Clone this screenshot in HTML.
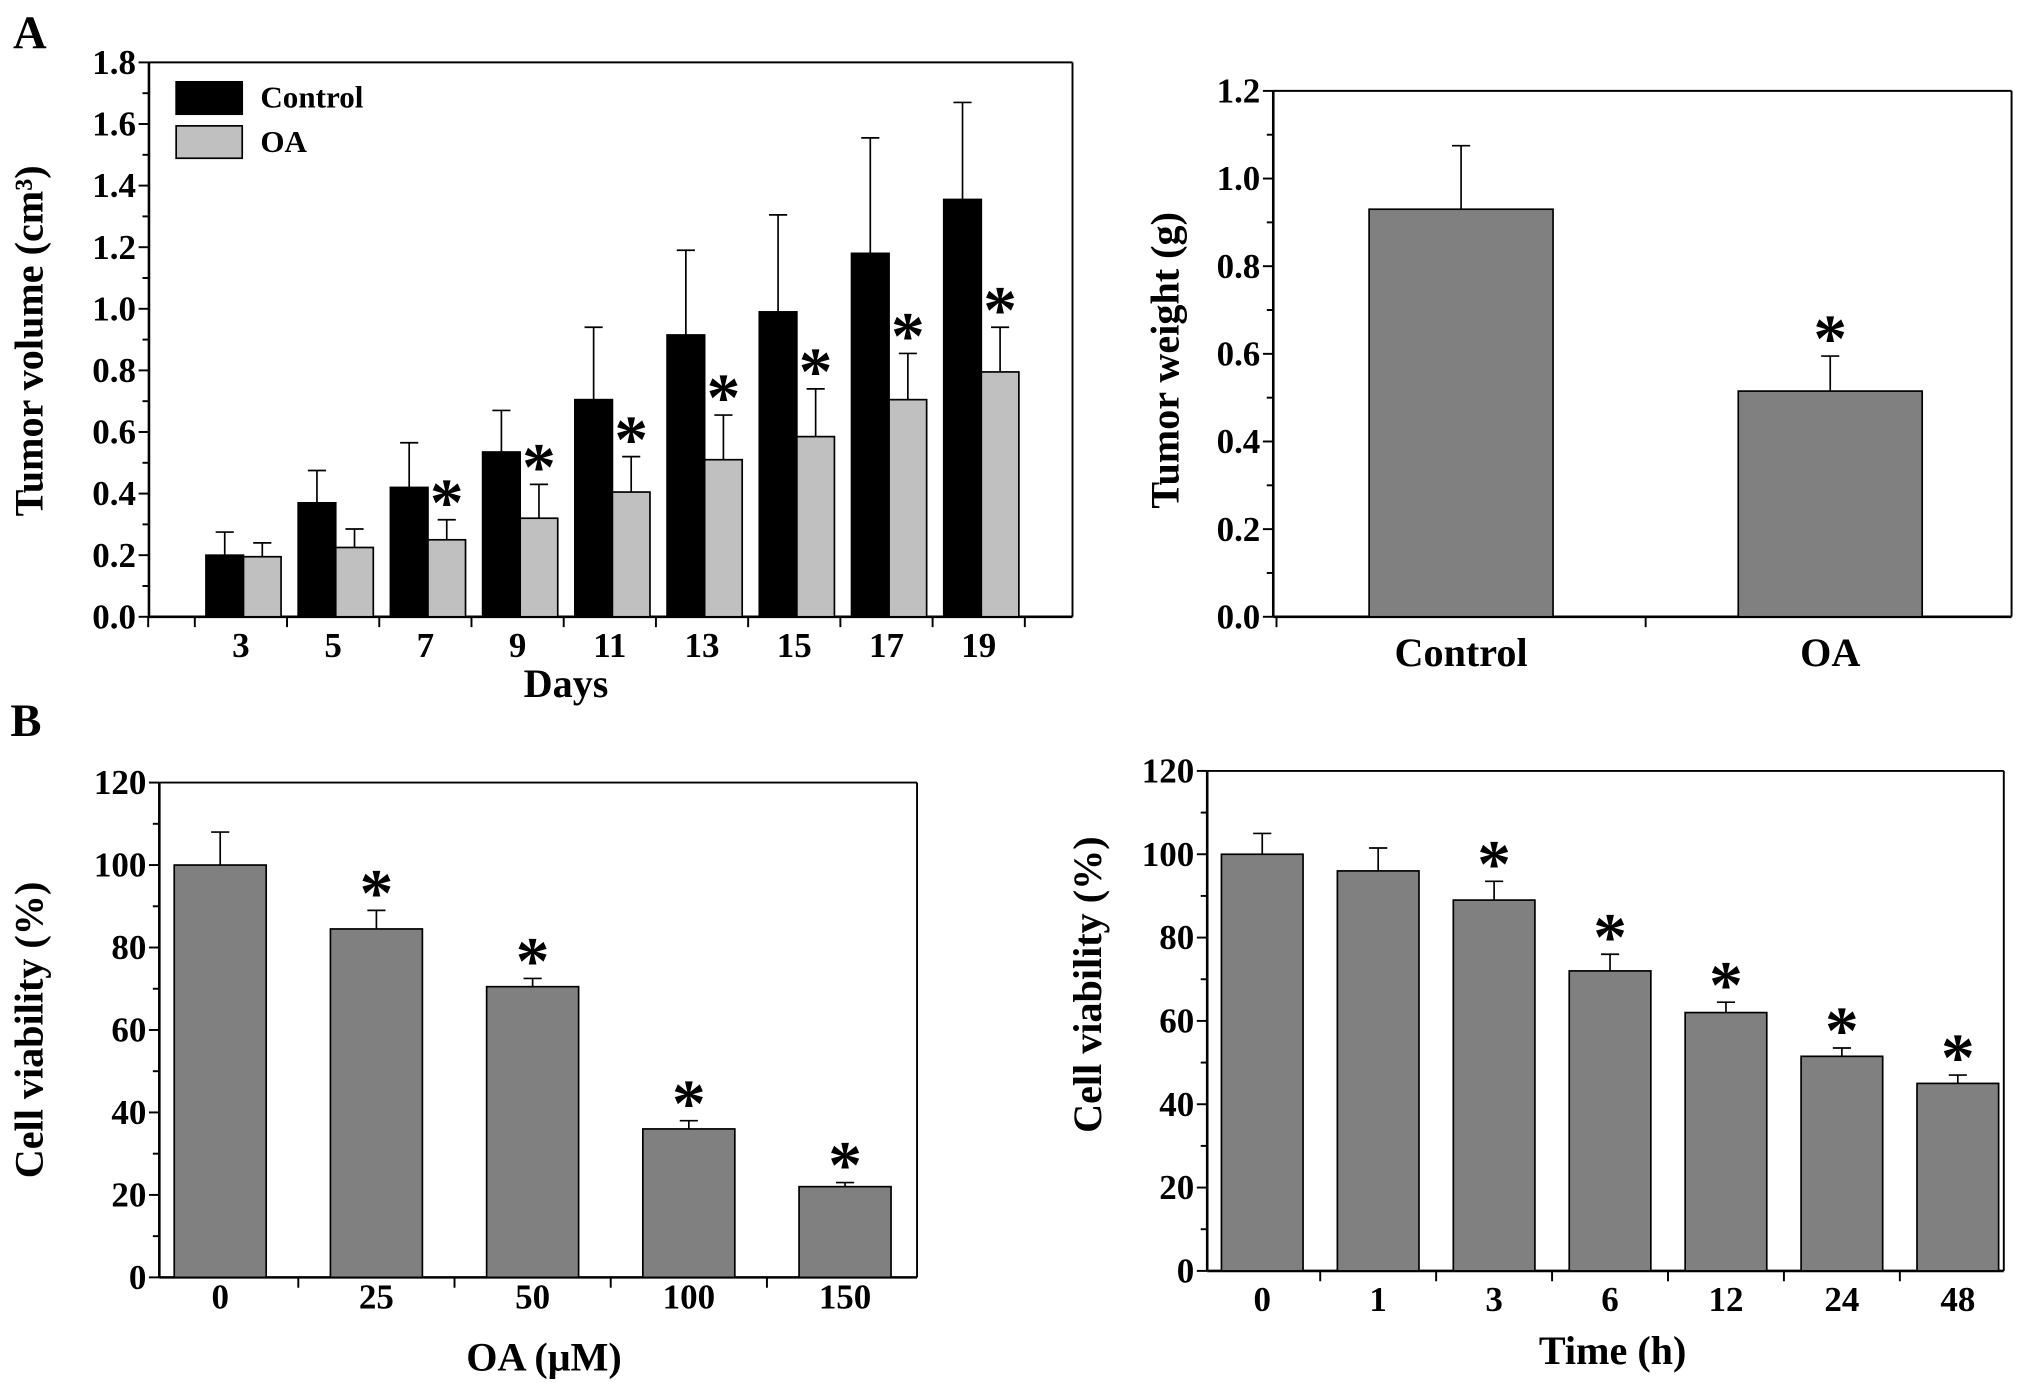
<!DOCTYPE html>
<html><head><meta charset="utf-8"><style>
html,body{margin:0;padding:0;background:#fff}
svg{display:block}
text{font-family:"Liberation Serif",serif;font-weight:bold;fill:#000}
</style></head><body>
<svg id="fig" width="2031" height="1389" viewBox="0 0 1568 1072" xmlns="http://www.w3.org/2000/svg">
<text x="10" y="37" font-size="36">A</text>
<text x="8" y="568" font-size="36">B</text>
</svg>
<script>
// Panel A1: tumor volume
const daysCats = ["3","5","7","9","11","13","15","17","19"];
const volControl = [0.20,0.37,0.42,0.535,0.705,0.915,0.99,1.18,1.355];
const volControlErr = [0.275,0.475,0.565,0.67,0.94,1.19,1.305,1.555,1.67];
const volOA = [0.195,0.225,0.25,0.32,0.405,0.51,0.585,0.705,0.795];
const volOAErr = [0.24,0.285,0.315,0.43,0.52,0.655,0.74,0.855,0.94];
const volOAStar = [false,false,true,true,true,true,true,true,true];
const volTicks = ["0.0","0.2","0.4","0.6","0.8","1.0","1.2","1.4","1.6","1.8"];
// Panel A2: tumor weight
const weightCats = ["Control","OA"];
const weightVals = [0.93,0.515];
const weightErr = [1.075,0.595];
const weightStar = [false,true];
const weightTicks = ["0.0","0.2","0.4","0.6","0.8","1.0","1.2"];
// Panel B1: dose
const doseCats = ["0","25","50","100","150"];
const doseVals = [100,84.5,70.5,36,22];
const doseErr = [108,89,72.5,38,23];
const doseStar = [false,true,true,true,true];
// Panel B2: time
const timeCats = ["0","1","3","6","12","24","48"];
const timeVals = [100,96,89,72,62,51.5,45];
const timeErr = [105,101.5,93.5,76,64.5,53.5,47];
const timeStar = [false,false,true,true,true,true,true];
const viabTicks = ["0","20","40","60","80","100","120"];

const svg = document.getElementById('fig');
const NS = "http://www.w3.org/2000/svg";
const TF = 27;
function mk(tag, attrs, parent){
  const e = document.createElementNS(NS, tag);
  for (const k in attrs) e.setAttribute(k, attrs[k]);
  (parent||svg).appendChild(e);
  return e;
}
function line(x1,y1,x2,y2,w,p){ return mk('line',{x1:x1,y1:y1,x2:x2,y2:y2,stroke:'#000','stroke-width':w||1.5},p); }
function txt(s,x,y,size,anchor,p){ const t=mk('text',{x:x,y:y,'font-size':size,'text-anchor':anchor||'middle'},p); t.textContent=s; return t; }

// cfg: L,R,T,B,ymax,ticks, c0 (first category center), step, n
function axes(name, c){
  const g = mk('g',{});
  
  
  const ys = v => c.B - v/c.ymax*(c.B-c.T);
  const xc = i => c.c0 + c.step*i;
  line(c.L,c.T,c.R,c.T,1.5,g); line(c.R,c.T,c.R,c.B,1.5,g);
  line(c.L,c.T,c.L,c.B,2,g); line(c.L,c.B,c.R,c.B,2,g);
  const n = c.ticks.length-1;
  for (let i=0;i<=n;i++){
    const v = c.ymax*i/n, y = ys(v);
    line(c.L-8,y,c.L,y,1.5,g);
    const lab = txt(c.ticks[i], c.L-10, y+9, TF, 'end', g);
    
    
    if (i<n){ const ym = ys(v+c.ymax/n/2); line(c.L-5,ym,c.L,ym,1.5,g); }
  }
  for (let i=0;i<=c.n;i++){
    const x = c.c0 + c.step*(i-0.5);
    if (x>c.L+2 && x<c.R-2) line(x,c.B,x,c.B+8,1.5,g);
  }
  for (let i=0;i<c.cats.length;i++){
    const lab = txt(c.cats[i], xc(i)+(c.labDx||0), c.labY, c.labSize||TF, 'middle', g);
    
    
  }
  if (c.xTitle){
    const xt = txt(c.xTitle, c.xTitleX, c.xTitleY, 31, 'middle', g);
    
    
  }
  const yt = txt(c.yTitle, 0, 0, 31, 'middle', g);
  yt.setAttribute('transform','translate('+c.yTitleX+','+c.yTitleY+') rotate(-90)');
  
  
  return {g, ys, xc};
}
function bar(g, x, w, v, e, ys, fill, star, name){
  const y = ys(v), ye = ys(e), cx = x + w/2;
  line(cx, y, cx, ye, 1.3, g);
  line(cx-7, ye, cx+7, ye, 1.3, g);
  const r = mk('rect',{x:x,y:y,width:w,height:ys(0)-y,fill:fill,stroke:'#000','stroke-width':1.3},g);
  
  
  if (star){
    const s = txt('*', cx, ye+4, 52, 'middle', g);
    
    
  }
}

// Panel A1
(function(){
  const a = axes('tumor-volume-chart',{L:115,R:828,T:48,B:476,ymax:1.8,ticks:volTicks,c0:186,step:71.2,n:10,
    cats:daysCats,labY:507,xTitle:'Days',xTitleX:437,xTitleY:538,yTitle:'Tumor volume (cm³)',yTitleX:33,yTitleY:263});
  // extra ticks at ends
  line(150-35.6+35.6-71.2+71.2-35.6,476,150-35.6+35.6-71.2+71.2-35.6,484,1.5,a.g);
  for (let i=0;i<daysCats.length;i++){
    const c = a.xc(i)+2;
    bar(a.g, c-29, 29, volControl[i], volControlErr[i], a.ys, '#000', false, 'bar-control-day-'+daysCats[i]);
    bar(a.g, c, 29, volOA[i], volOAErr[i], a.ys, '#c0c0c0', volOAStar[i], 'bar-oa-day-'+daysCats[i]);
  }
  const lg = mk('g',{});
  
  
  const r1 = mk('rect',{x:136,y:63,width:51,height:25,fill:'#000',stroke:'#000','stroke-width':1.3},lg);
  
  
  const t1 = txt('Control',201,83,24,'start',lg);
  
  
  const r2 = mk('rect',{x:136,y:97,width:51,height:25,fill:'#c0c0c0',stroke:'#000','stroke-width':1.3},lg);
  
  
  const t2 = txt('OA',201,117,24,'start',lg);
  
  
})();

// Panel A2
(function(){
  const a = axes('tumor-weight-chart',{L:983,R:1553,T:70,B:476,ymax:1.2,ticks:weightTicks,c0:1128,step:285,n:2,
    cats:weightCats,labY:514,labSize:31,yTitle:'Tumor weight (g)',yTitleX:910,yTitleY:278});
  for (let i=0;i<weightCats.length;i++){
    bar(a.g, a.xc(i)-71, 142, weightVals[i], weightErr[i], a.ys, '#808080', weightStar[i], 'bar-weight-'+weightCats[i].toLowerCase());
  }
})();

// Panel B1
(function(){
  const a = axes('viability-dose-chart',{L:123,R:708,T:604,B:986,ymax:120,ticks:viabTicks,c0:170,step:120.6,n:5,
    cats:doseCats,labY:1010,xTitle:'OA (μM)',xTitleX:420,xTitleY:1058,yTitle:'Cell viability (%)',yTitleX:33,yTitleY:795});
  for (let i=0;i<doseCats.length;i++){
    bar(a.g, a.xc(i)-35.5, 71, doseVals[i], doseErr[i], a.ys, '#808080', doseStar[i], 'bar-dose-'+doseCats[i]);
  }
})();

// Panel B2
(function(){
  const a = axes('viability-time-chart',{L:932,R:1547,T:595,B:981,ymax:120,ticks:viabTicks,c0:974.5,step:89.5,n:7,
    cats:timeCats,labY:1012,xTitle:'Time (h)',xTitleX:1245,xTitleY:1053,yTitle:'Cell viability (%)',yTitleX:850,yTitleY:760});
  for (let i=0;i<timeCats.length;i++){
    bar(a.g, a.xc(i)-31.5, 63, timeVals[i], timeErr[i], a.ys, '#808080', timeStar[i], 'bar-time-'+timeCats[i]+'h');
  }
})();
</script>
</body></html>
